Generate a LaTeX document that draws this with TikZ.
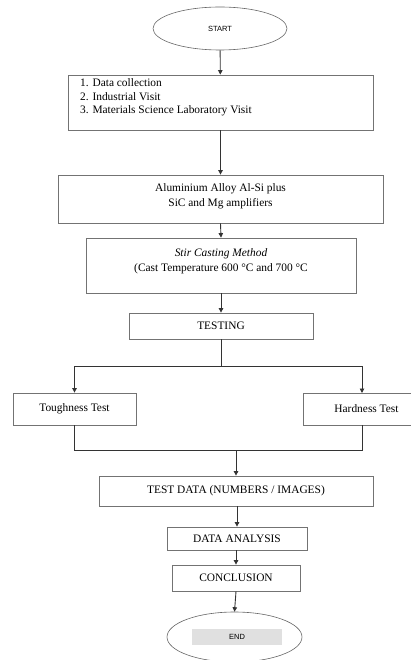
\documentclass[tikz,border=0pt]{standalone}
\usepackage{fontspec}
\setmainfont{Liberation Serif}
\newfontfamily\sansf{Liberation Sans}
\usetikzlibrary{arrows.meta,shapes.geometric}
\begin{document}
\begin{tikzpicture}[x=1pt,y=-1pt,
  txt/.style={font=\fontsize{11.4}{14.5}\selectfont},
  box/.style={draw=black!55,line width=0.8pt,rectangle,inner sep=0pt,txt},
  oval/.style={draw=black!60,line width=0.6pt,ellipse,inner sep=0pt},
  arr/.style={draw=black!80,line width=0.9pt,-{Triangle[width=4.5pt,length=4.5pt]}},
  ln/.style={draw=black!80,line width=0.9pt}]
\useasboundingbox (0,0) rectangle (411,660);
\begin{scope}
\clip (0,0) rectangle (411,660);
\node[anchor=base east,font=\fontsize{19}{22}\selectfont,inner sep=0pt] (cap) at (355,-3) {The research method is described in the flowchart as follows:};
\node[oval,minimum width=134pt,minimum height=43pt,font=\sansf\fontsize{7.5}{9}\selectfont] (start) at (220,28.5) {START};
\node[oval,minimum width=135pt,minimum height=50pt] (endo) at (234.5,637) {};
\node[fill=black!12,minimum width=90pt,minimum height=16pt,inner sep=0pt,font=\sansf\fontsize{7.5}{9}\selectfont] (end) at (237,637) {END};
\node[box,minimum width=127pt,minimum height=32pt] (hard) at (366.5,409) {Hardness Test};
\end{scope}
\node[box,minimum width=305pt,minimum height=55pt] (b1) at (220.5,102.5) {};
\node[anchor=base west,inner sep=0pt,txt] (l1) at (80,87) {1. Data collection};
\node[anchor=base west,inner sep=0pt,txt] (l2) at (80,100.5) {2. Industrial Visit};
\node[anchor=base west,inner sep=0pt,txt] (l3) at (80,114) {3. Materials Science Laboratory Visit};
\node[box,minimum width=325pt,minimum height=48pt] (b2) at (220.5,199) {};
\node[anchor=base,inner sep=0pt,txt] (b2a) at (220.5,192) {Aluminium Alloy Al-Si plus};
\node[anchor=base,inner sep=0pt,txt] (b2b) at (220.5,207) {SiC and Mg amplifiers};
\node[box,minimum width=270pt,minimum height=55pt] (b3) at (221,265.5) {};
\node[anchor=base,inner sep=0pt,txt] (b3a) at (221,256) {\textit{Stir Casting Method}};
\node[anchor=base,inner sep=0pt,txt] (b3b) at (221,271) {(Cast Temperature 600 °C and 700 °C};
\node[box,minimum width=184pt,minimum height=26pt] (test) at (221,326) {TESTING};
\node[box,minimum width=123pt,minimum height=32pt] (tough) at (74.5,409) {Toughness Test};
\node[box,minimum width=274pt,minimum height=30pt] (data) at (236,491) {TEST DATA (NUMBERS / IMAGES)};
\node[box,minimum width=140pt,minimum height=23pt] (ana) at (237,538.5) {DATA ANALYSIS};
\node[box,minimum width=128pt,minimum height=26pt] (conc) at (236,578) {CONCLUSION};
\coordinate (split) at (221,366);
\coordinate (hardtop) at (362,393);
\coordinate (hardbot) at (362,425);
\coordinate (join) at (236,450);
\draw[arr] (start) -- (b1);
\draw[arr] (b1.south) -- (b2.north);
\draw[arr] (b2.south) -- (b3.north);
\draw[arr] (b3.south) -- (test.north);
\draw[ln] (test.south) -- (split);
\draw[arr] (split) -| (tough.north);
\draw[arr] (split) -| (hardtop);
\draw[ln] (tough.south) |- (join);
\draw[ln] (hardbot) |- (join);
\draw[arr] (join) -- (data.north);
\draw[arr] (data.south -| ana.north) -- (ana.north);
\draw[arr] (ana.south -| conc.north) -- (conc.north);
\draw[arr] (conc.south) -- (endo.north);
\end{tikzpicture}
\end{document}
